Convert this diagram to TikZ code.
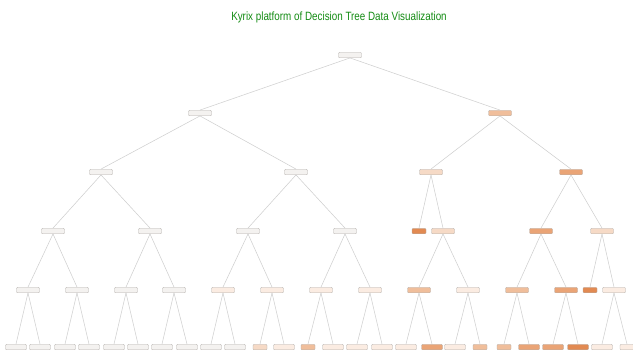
\documentclass[tikz,border=0pt]{standalone}
\usepackage{fontspec}
\setmainfont{Liberation Sans}

\definecolor{titlegreen}{RGB}{20,140,20}
\definecolor{edgegray}{RGB}{205,205,205}
\definecolor{boxgray}{RGB}{180,176,172}
\definecolor{c0}{RGB}{244,242,240}
\definecolor{c1}{RGB}{251,236,226}
\definecolor{c2}{RGB}{246,218,198}
\definecolor{c3}{RGB}{240,190,155}
\definecolor{c4}{RGB}{234,164,118}
\definecolor{c5}{RGB}{226,138,82}

\tikzset{
	treenode/.style={draw=boxgray, line width=0.35pt, rounded corners=1pt, minimum height=5.5pt, inner sep=0pt},
	branch/.style={draw=edgegray, line width=0.5pt}
}

\begin{document}
\begin{tikzpicture}[x=1pt,y=-1pt,font=\small,anchor=center]

	\useasboundingbox (0,0) rectangle (633,349);
	\fill[white] (0,0) rectangle (633,349);

	\node[text=titlegreen, font=\fontsize{12}{14}\selectfont] (title) at (339,17) {\scalebox{0.82}[1]{Kyrix platform of Decision Tree Data Visualization}};

	\begin{scope}
		\clip (0,0) rectangle (633,349);

		% levels 0 to 3
		\foreach \name/\x/\y/\col/\w in {
			l0n1/350/55/c0/23,
			l1n1/200/113/c0/23, l1n2/500/113/c3/23,
			l2n1/101/172/c0/23, l2n2/296/172/c0/23, l2n3/431/172/c2/23, l2n4/571/172/c4/23,
			l3n1/53/231/c0/23, l3n2/150/231/c0/23, l3n3/248/231/c0/23, l3n4/345/231/c0/23,
			l3n5/419/231/c5/14, l3n6/443/231/c2/23, l3n7/541/231/c4/23, l3n8/602/231/c2/23}
		{
			\node[treenode, fill=\col, minimum width=\w pt] (\name) at (\x,\y) {};
		}

		% level 4
		\foreach \name/\x/\col/\w in {
			l4n1/28/c0/23, l4n2/77/c0/23, l4n3/126/c0/23, l4n4/174/c0/23,
			l4n5/223/c1/23, l4n6/272/c1/23, l4n7/321/c1/23, l4n8/370/c1/23,
			l4n9/419/c3/23, l4n10/468/c1/23, l4n11/517/c3/23, l4n12/566/c4/23,
			l4n13/590/c5/14, l4n14/614/c1/23}
		{
			\node[treenode, fill=\col, minimum width=\w pt] (\name) at (\x,290) {};
		}

		% level 5
		\foreach \name/\x/\col/\w in {
			l5n1/16/c0/21, l5n2/40/c0/21, l5n3/65/c0/21, l5n4/89/c0/21,
			l5n5/114/c0/21, l5n6/138/c0/21, l5n7/162/c0/21, l5n8/187/c0/21,
			l5n9/211/c0/21, l5n10/235/c0/21, l5n11/260/c2/14, l5n12/284/c1/21,
			l5n13/308/c3/14, l5n14/333/c1/21, l5n15/357/c1/21, l5n16/382/c1/21,
			l5n17/406/c1/21, l5n18/432/c4/21, l5n19/455/c1/21, l5n20/480/c3/14,
			l5n21/504/c3/14, l5n22/529/c4/21, l5n23/553/c4/21, l5n24/578/c5/21,
			l5n25/602/c1/21, l5n26/627/c1/14}
		{
			\node[treenode, fill=\col, minimum width=\w pt] (\name) at (\x,347) {};
		}

		% branches
		\foreach \a/\b in {
			l0n1/l1n1, l0n1/l1n2,
			l1n1/l2n1, l1n1/l2n2, l1n2/l2n3, l1n2/l2n4,
			l2n1/l3n1, l2n1/l3n2, l2n2/l3n3, l2n2/l3n4,
			l2n3/l3n5, l2n3/l3n6, l2n4/l3n7, l2n4/l3n8,
			l3n1/l4n1, l3n1/l4n2, l3n2/l4n3, l3n2/l4n4,
			l3n3/l4n5, l3n3/l4n6, l3n4/l4n7, l3n4/l4n8,
			l3n6/l4n9, l3n6/l4n10, l3n7/l4n11, l3n7/l4n12,
			l3n8/l4n13, l3n8/l4n14,
			l4n1/l5n1, l4n1/l5n2, l4n2/l5n3, l4n2/l5n4,
			l4n3/l5n5, l4n3/l5n6, l4n4/l5n7, l4n4/l5n8,
			l4n5/l5n9, l4n5/l5n10, l4n6/l5n11, l4n6/l5n12,
			l4n7/l5n13, l4n7/l5n14, l4n8/l5n15, l4n8/l5n16,
			l4n9/l5n17, l4n9/l5n18, l4n10/l5n19, l4n10/l5n20,
			l4n11/l5n21, l4n11/l5n22, l4n12/l5n23, l4n12/l5n24,
			l4n14/l5n25, l4n14/l5n26}
		{
			\draw[branch] (\a.south) -- (\b.north);
		}

	\end{scope}

\end{tikzpicture}
\end{document}
